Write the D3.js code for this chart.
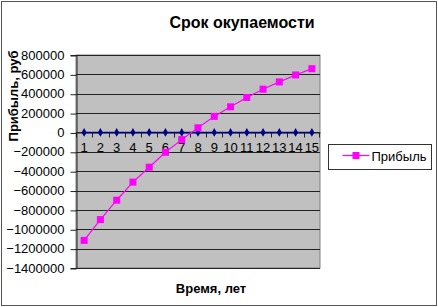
<!DOCTYPE html>
<html>
<head>
<meta charset="utf-8">
<script src="https://cdn.jsdelivr.net/npm/d3@7"></script>
<style>
  body { margin: 0; background: #fff; }
  svg { display: block; font-family: "Liberation Sans", Arial, sans-serif; }
</style>
</head>
<body>
<svg id="chart" width="438" height="307"></svg>
<script>
var years = [1, 2, 3, 4, 5, 6, 7, 8, 9, 10, 11, 12, 13, 14, 15];
var profit = [-1115000, -900000, -700000, -513000, -359000, -205000, -74000, 48000, 166000, 265000, 361000, 447000, 522000, 594000, 659000];
var zeroLine = [0, 0, 0, 0, 0, 0, 0, 0, 0, 0, 0, 0, 0, 0, 0];
var yTicks = [800000, 600000, 400000, 200000, 0, -200000, -400000, -600000, -800000, -1000000, -1200000, -1400000];

var plot = { left: 76, top: 55, right: 320, bottom: 268 };

var svg = d3.select('#chart');

// chart area border
svg.append('rect')
  .attr('x', 1.5).attr('y', 1.5)
  .attr('width', 435).attr('height', 304)
  .attr('fill', '#fff').attr('stroke', '#555').attr('stroke-width', 1);

var x = d3.scaleBand()
  .domain(years)
  .range([plot.left, plot.right]);

var y = d3.scaleLinear()
  .domain([-1400000, 800000])
  .range([plot.bottom, plot.top]);

// plot area
svg.append('rect')
  .attr('x', plot.left).attr('y', plot.top)
  .attr('width', plot.right - plot.left).attr('height', plot.bottom - plot.top)
  .attr('fill', '#c0c0c0').attr('stroke', '#808080');

// gridlines
svg.append('g').selectAll('line')
  .data(yTicks)
  .enter().append('line')
  .attr('x1', plot.left).attr('x2', plot.right)
  .attr('y1', function(d) { return Math.round(y(d)) + 0.5; })
  .attr('y2', function(d) { return Math.round(y(d)) + 0.5; })
  .attr('stroke', '#222').attr('stroke-width', 1);

// y axis
var yAxis = d3.axisLeft(y)
  .tickValues(yTicks)
  .tickSize(6)
  .tickPadding(6)
  .tickFormat(d3.format('d'));
var gy = svg.append('g')
  .attr('transform', 'translate(' + (plot.left + 0.5) + ',0)')
  .call(yAxis);
gy.select('.domain').attr('stroke', '#222');
gy.selectAll('.tick line').attr('stroke', '#222')
  .attr('transform', 'translate(0,0.5)');
gy.selectAll('.tick text')
  .attr('font-size', 13).attr('fill', '#000')
  .attr('font-family', '"Liberation Sans", Arial, sans-serif');

// x axis crossing at zero
var zeroY = Math.round(y(0)) + 0.5;
var xAxis = d3.axisBottom(x).tickSize(0).tickPadding(10);
var gx = svg.append('g')
  .attr('transform', 'translate(0,' + zeroY + ')')
  .call(xAxis);
gx.select('.domain').attr('stroke', '#222');
gx.selectAll('.tick text')
  .attr('font-size', 13).attr('fill', '#000')
  .attr('font-family', '"Liberation Sans", Arial, sans-serif');
// category boundary ticks
gx.append('g').selectAll('line')
  .data(years)
  .enter().append('line')
  .attr('x1', function(d) { return Math.round(x(d)) + 0.5; })
  .attr('x2', function(d) { return Math.round(x(d)) + 0.5; })
  .attr('y1', 0).attr('y2', 5)
  .attr('stroke', '#222');
gx.append('line')
  .attr('x1', plot.right - 0.5).attr('x2', plot.right - 0.5)
  .attr('y1', 0).attr('y2', 5).attr('stroke', '#222');

var cx = function(d, i) { return x(years[i]) + x.bandwidth() / 2; };

// zero series (navy with diamonds)
var line = d3.line()
  .x(function(d, i) { return cx(d, i); })
  .y(function(d) { return y(d); });

svg.append('path')
  .datum(zeroLine)
  .attr('d', line)
  .attr('fill', 'none').attr('stroke', '#000080').attr('stroke-width', 1.5);

svg.append('g').selectAll('path')
  .data(zeroLine)
  .enter().append('path')
  .attr('transform', function(d, i) { return 'translate(' + cx(d, i) + ',' + y(d) + ')'; })
  .attr('d', d3.symbol().type(d3.symbolDiamond).size(22))
  .attr('fill', '#000080');

// profit series
svg.append('path')
  .datum(profit)
  .attr('d', line)
  .attr('fill', 'none').attr('stroke', '#ff00ff').attr('stroke-width', 1.2);

svg.append('g').selectAll('rect')
  .data(profit)
  .enter().append('rect')
  .attr('x', function(d, i) { return cx(d, i) - 3.5; })
  .attr('y', function(d) { return y(d) - 3.5; })
  .attr('width', 7).attr('height', 7)
  .attr('fill', '#ff00ff');

// titles
svg.append('text')
  .attr('x', 242).attr('y', 28)
  .attr('text-anchor', 'middle')
  .attr('font-size', 16).attr('font-weight', 'bold')
  .text('Срок окупаемости');

svg.append('text')
  .attr('transform', 'translate(18,96) rotate(-90)')
  .attr('text-anchor', 'middle')
  .attr('font-size', 13).attr('font-weight', 'bold')
  .text('Прибыль, руб');

svg.append('text')
  .attr('x', 211).attr('y', 293)
  .attr('text-anchor', 'middle')
  .attr('font-size', 13).attr('font-weight', 'bold')
  .text('Время, лет');

// legend
var legend = svg.append('g').attr('transform', 'translate(328.5,144.5)');
legend.append('rect')
  .attr('width', 103).attr('height', 25)
  .attr('fill', '#fff').attr('stroke', '#333');
legend.append('line')
  .attr('x1', 14).attr('x2', 41).attr('y1', 11).attr('y2', 11)
  .attr('stroke', '#ff00ff').attr('stroke-width', 1.2);
legend.append('rect')
  .attr('x', 24).attr('y', 7.5).attr('width', 7).attr('height', 7)
  .attr('fill', '#ff00ff');
legend.append('text')
  .attr('x', 43).attr('y', 16)
  .attr('font-size', 13)
  .text('Прибыль');
</script>
</body>
</html>
